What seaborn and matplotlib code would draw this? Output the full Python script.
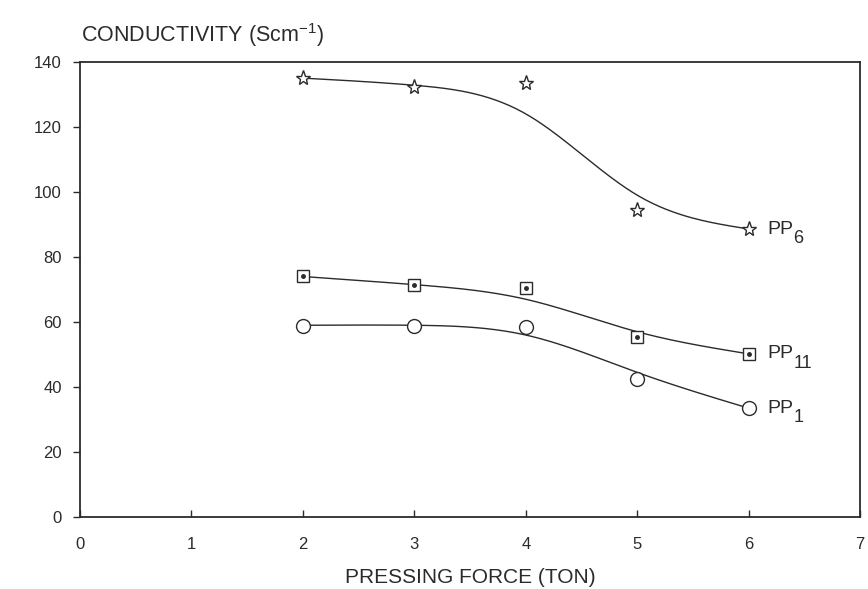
"""Conductivity vs pressing force for PP1, PP6, PP11 pellets."""
import matplotlib
matplotlib.use("Agg")
import matplotlib.pyplot as plt
import numpy as np
import pandas as pd
import seaborn as sns

FORCE = [2, 3, 4, 5, 6]
PP6 = [135.1, 132.3, 133.5, 94.5, 88.6]
PP11 = [74.2, 71.4, 70.5, 55.4, 50.2]
PP1 = [58.8, 58.8, 58.5, 42.5, 33.5]

# hand-drawn smoothing curves, values read where they cross x = 2..6
PP6_CURVE = [135.0, 132.8, 124.0, 99.0, 88.6]
PP11_CURVE = [74.0, 71.5, 67.0, 57.0, 50.2]
PP1_CURVE = [59.0, 59.0, 56.0, 44.5, 33.5]

X_TICKS = [0, 1, 2, 3, 4, 5, 6, 7]
Y_TICKS = [0, 20, 40, 60, 80, 100, 120, 140]

INK = "#2b2b2b"


def natural_spline(x, y, xs):
    """Natural cubic spline through the read curve values."""
    x = np.asarray(x, float)
    y = np.asarray(y, float)
    n = len(x)
    h = np.diff(x)
    A = np.zeros((n, n))
    b = np.zeros(n)
    A[0, 0] = A[-1, -1] = 1
    for i in range(1, n - 1):
        A[i, i - 1] = h[i - 1]
        A[i, i] = 2 * (h[i - 1] + h[i])
        A[i, i + 1] = h[i]
        b[i] = 6 * ((y[i + 1] - y[i]) / h[i] - (y[i] - y[i - 1]) / h[i - 1])
    M = np.linalg.solve(A, b)
    out = np.empty_like(xs)
    for j, xv in enumerate(xs):
        k = min(np.searchsorted(x, xv, side="right") - 1, n - 2)
        a, c = x[k + 1] - xv, xv - x[k]
        out[j] = (M[k] * a**3 + M[k + 1] * c**3) / (6 * h[k]) \
            + (y[k] / h[k] - M[k] * h[k] / 6) * a \
            + (y[k + 1] / h[k] - M[k + 1] * h[k] / 6) * c
    return out


sns.set_theme(style="ticks")
plt.rcParams["font.family"] = ["Liberation Sans", "DejaVu Sans"]
plt.rcParams["mathtext.fontset"] = "custom"
plt.rcParams["mathtext.rm"] = "Liberation Sans"
plt.rcParams["mathtext.it"] = "Liberation Sans"

fig = plt.figure(figsize=(8.68, 5.89), dpi=100)
ax = fig.add_axes([0.092, 0.122, 0.899, 0.773])

xs = np.linspace(2, 6, 200)
series = [
    (PP6, PP6_CURVE, "*", 11, "6"),
    (PP11, PP11_CURVE, "s", 8, "11"),
    (PP1, PP1_CURVE, "o", 10, "1"),
]
for pts, curve, mk, ms, sub in series:
    smooth = pd.DataFrame({"x": xs, "y": natural_spline(FORCE, curve, xs)})
    sns.lineplot(data=smooth, x="x", y="y", color=INK, lw=1.0, ax=ax)
    pts_df = pd.DataFrame({"x": FORCE, "y": pts})
    ax.plot(pts_df["x"], pts_df["y"], ls="", marker=mk, ms=ms,
            mfc="white", mec=INK, mew=1.0, zorder=3)
    if mk == "s":
        ax.plot(pts_df["x"], pts_df["y"], ls="", marker="o", ms=2.5,
                mfc=INK, mec=INK, zorder=4)
    ax.text(6.17, pts[-1], "PP", fontsize=14, color=INK,
            va="center", ha="left")
    ax.annotate(sub, xy=(6.17, pts[-1]), xytext=(18.5, -7),
                textcoords="offset points", fontsize=13, color=INK,
                va="center", ha="left")

ax.set_xlim(0, 7)
ax.set_ylim(0, 140)
ax.set_xticks(X_TICKS)
ax.set_yticks(Y_TICKS)
ax.tick_params(axis="x", direction="in", length=5, pad=14, labelsize=12,
               colors=INK, width=1.0)
ax.tick_params(axis="y", direction="out", length=5, pad=8, labelsize=12,
               colors=INK, width=1.0)
for sp in ax.spines.values():
    sp.set_visible(True)
    sp.set_color(INK)
    sp.set_linewidth(1.3)

ax.set_xlabel("PRESSING FORCE (TON)", fontsize=15, color=INK, labelpad=12)
ax.set_ylabel("")
fig.text(0.093, 0.94, r"CONDUCTIVITY (Scm$^{-1}$)", fontsize=15.5, color=INK,
         ha="left", va="center")

fig.savefig("out.png", dpi=100, facecolor="white")
